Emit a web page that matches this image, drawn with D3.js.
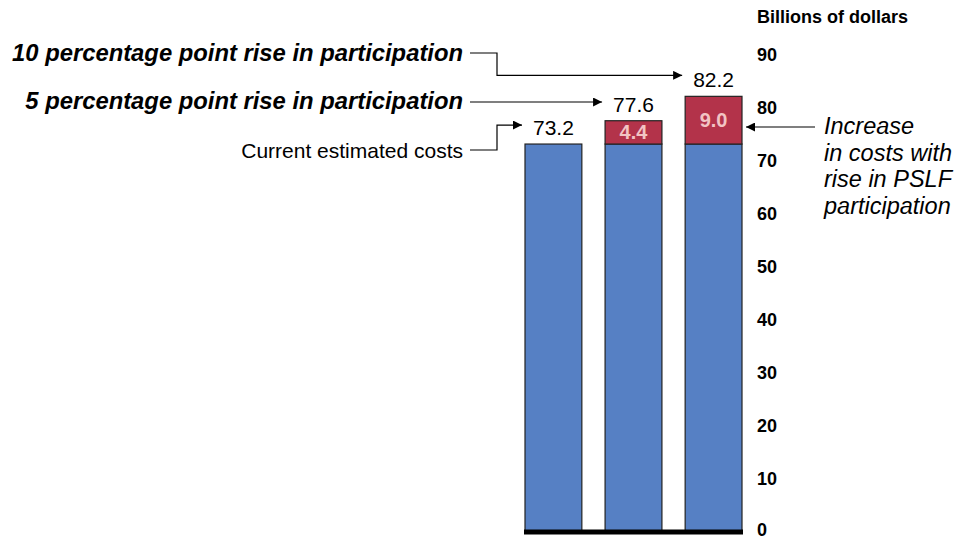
<!DOCTYPE html>
<html>
<head>
<meta charset="utf-8">
<script src="https://cdn.jsdelivr.net/npm/d3@7"></script>
<style>
  body { margin: 0; background: #fff; }
  svg { font-family: Arial, "Liberation Sans", sans-serif; }
</style>
</head>
<body>
<svg id="chart"></svg>
<script>
'use strict';

var WIDTH = 974;
var HEIGHT = 540;

// data
var scenarios = ["Current estimated costs", "5 percentage point rise in participation", "10 percentage point rise in participation"];
var baseCost = [73.2, 73.2, 73.2];
var increase = [0, 4.4, 9.0];
var totals = [73.2, 77.6, 82.2];
var yTicks = [0, 10, 20, 30, 40, 50, 60, 70, 80, 90];

var BLUE = "#5680c4";
var RED = "#b3334a";

var svg = d3.select("#chart").attr("width", WIDTH).attr("height", HEIGHT);

var x = d3.scaleBand()
  .domain(d3.range(scenarios.length))
  .range([525, 742])
  .paddingInner(0.29)
  .paddingOuter(0);

var y = d3.scaleLinear()
  .domain([0, 90])
  .range([532, 55]);

// y axis labels (no line)
var yAxis = d3.axisRight(y).tickValues(yTicks).tickSize(0).tickPadding(0);
var gy = svg.append("g")
  .attr("transform", "translate(757,0)")
  .call(yAxis);
gy.select(".domain").remove();
gy.selectAll("text")
  .attr("font-size", 18)
  .attr("font-weight", "bold")
  .attr("font-family", "Arial, 'Liberation Sans', sans-serif")
  .attr("fill", "#000")
  .attr("text-anchor", "start")
  .attr("dy", function(d){ return d === 0 ? "0.2em" : "0.32em"; });

svg.append("text")
  .attr("x", 757).attr("y", 23)
  .attr("font-size", 18).attr("font-weight", "bold")
  .text("Billions of dollars");

// bars
var bars = svg.append("g");
bars.selectAll("rect.base").data(baseCost).enter().append("rect")
  .attr("class", "base")
  .attr("x", function(d, i){ return x(i); })
  .attr("y", function(d){ return y(d); })
  .attr("width", x.bandwidth())
  .attr("height", function(d){ return y(0) - y(d); })
  .attr("fill", BLUE).attr("stroke", "#222").attr("stroke-width", 1.2);

bars.selectAll("rect.inc").data(increase).enter().append("rect")
  .filter(function(d){ return d > 0; })
  .attr("class", "inc")
  .attr("x", function(d, i){ return x(i + 1); })
  .attr("y", function(d, i){ return y(baseCost[i + 1] + d); })
  .attr("width", x.bandwidth())
  .attr("height", function(d, i){ return y(baseCost[i + 1]) - y(baseCost[i + 1] + d); })
  .attr("fill", RED).attr("stroke", "#222").attr("stroke-width", 1.2);

// labels inside red segments
increase.forEach(function(d, i){
  if (d <= 0) return;
  svg.append("text")
    .attr("x", x(i) + x.bandwidth() / 2)
    .attr("y", y(baseCost[i] + d / 2) + 7)
    .attr("text-anchor", "middle")
    .attr("font-size", 20).attr("font-weight", "bold")
    .attr("fill", "#f2c4c4")
    .text(d.toFixed(1));
});

// totals above bars
totals.forEach(function(d, i){
  svg.append("text")
    .attr("x", x(i) + x.bandwidth() / 2)
    .attr("y", y(d) - 9)
    .attr("text-anchor", "middle")
    .attr("font-size", 21)
    .text(d.toFixed(1));
});

// baseline
svg.append("line")
  .attr("x1", 524).attr("x2", 743)
  .attr("y1", y(0)).attr("y2", y(0))
  .attr("stroke", "#000").attr("stroke-width", 5);

// arrow marker
svg.append("defs").append("marker")
  .attr("id", "arr")
  .attr("viewBox", "0 0 10 10")
  .attr("refX", 10).attr("refY", 5)
  .attr("markerWidth", 9).attr("markerHeight", 9)
  .attr("markerUnits", "userSpaceOnUse")
  .attr("orient", "auto")
  .append("path").attr("d", "M0,0L10,5L0,10Z").attr("fill", "#000");

// left-hand scenario labels and connectors
var labelY = [158, 109, 61];
var lineY = [150, 102, 53];
svg.selectAll("text.scen").data(scenarios).enter().append("text")
  .attr("class", "scen")
  .attr("x", 463)
  .attr("y", function(d, i){ return labelY[i]; })
  .attr("text-anchor", "end")
  .attr("font-size", function(d, i){ return i === 0 ? 21 : 23.8; })
  .attr("font-weight", function(d, i){ return i === 0 ? "normal" : "bold"; })
  .attr("font-style", function(d, i){ return i === 0 ? "normal" : "italic"; })
  .text(function(d){ return d; });

var connectors = [
  [[470, lineY[0]], [497, lineY[0]], [497, y(totals[0]) - 19], [x(0) - 3, y(totals[0]) - 19]],
  [[470, lineY[1]], [x(1) - 3, lineY[1]]],
  [[470, lineY[2]], [497, lineY[2]], [497, y(totals[2]) - 21], [x(2) - 3, y(totals[2]) - 21]]
];
var connLine = d3.line();
svg.selectAll("path.conn").data(connectors).enter().append("path")
  .attr("class", "conn")
  .attr("d", connLine)
  .attr("fill", "none").attr("stroke", "#000").attr("stroke-width", 1.2)
  .attr("marker-end", "url(#arr)");

// right annotation
svg.append("path")
  .attr("d", connLine([[815, 127], [746, 127]]))
  .attr("fill", "none").attr("stroke", "#000").attr("stroke-width", 1.2)
  .attr("marker-end", "url(#arr)");

var noteLines = ["Increase", "in costs with", "rise in PSLF", "participation"];
svg.append("text")
  .attr("x", 824).attr("y", 134)
  .attr("font-size", 23.5).attr("font-style", "italic")
  .selectAll("tspan").data(noteLines).enter().append("tspan")
  .attr("x", 824)
  .attr("dy", function(d, i){ return i === 0 ? 0 : 26.7; })
  .text(function(d){ return d; });
</script>
</body>
</html>
